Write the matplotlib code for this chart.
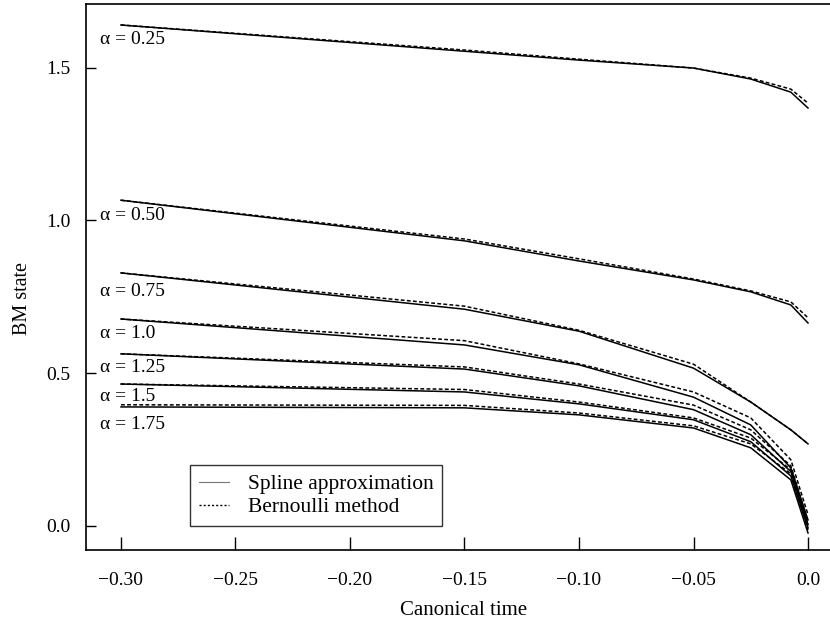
import matplotlib
matplotlib.use("Agg")
import matplotlib.pyplot as plt
from matplotlib.lines import Line2D

plt.rcParams["font.family"] = ["Liberation Serif", "DejaVu Serif"]
plt.rcParams["axes.unicode_minus"] = True

# canonical time knots
TIME = [-0.30, -0.15, -0.10, -0.05, -0.025, -0.0075, 0.0]

ALPHA_LABELS = ["0.25", "0.50", "0.75", "1.0", "1.25", "1.5", "1.75"]
LABEL_Y = [1.591, 1.017, 0.768, 0.631, 0.517, 0.422, 0.330]

# spline approximation (solid)
SPLINE_025 = [1.640, 1.554, 1.525, 1.499, 1.463, 1.420, 1.368]
SPLINE_050 = [1.066, 0.933, 0.867, 0.805, 0.766, 0.723, 0.664]
SPLINE_075 = [0.828, 0.709, 0.637, 0.516, 0.405, 0.314, 0.268]
SPLINE_100 = [0.677, 0.592, 0.527, 0.421, 0.330, 0.189, 0.019]
SPLINE_125 = [0.563, 0.513, 0.458, 0.380, 0.298, 0.177, 0.003]
SPLINE_150 = [0.464, 0.438, 0.399, 0.347, 0.275, 0.163, -0.007]
SPLINE_175 = [0.389, 0.386, 0.363, 0.320, 0.255, 0.150, -0.024]

# Bernoulli method (dashed)
BERN_025 = [1.640, 1.558, 1.528, 1.499, 1.466, 1.430, 1.384]
BERN_050 = [1.066, 0.939, 0.874, 0.808, 0.769, 0.733, 0.681]
BERN_075 = [0.828, 0.719, 0.640, 0.529, 0.405, 0.314, 0.268]
BERN_100 = [0.677, 0.606, 0.530, 0.438, 0.353, 0.216, 0.036]
BERN_125 = [0.563, 0.520, 0.464, 0.395, 0.314, 0.196, 0.012]
BERN_150 = [0.464, 0.446, 0.405, 0.353, 0.287, 0.183, 0.003]
BERN_175 = [0.396, 0.394, 0.369, 0.327, 0.268, 0.170, -0.014]

XTICKS = [-0.30, -0.25, -0.20, -0.15, -0.10, -0.05, 0.0]
XTICK_LABELS = ["\u22120.30", "\u22120.25", "\u22120.20", "\u22120.15",
                "\u22120.10", "\u22120.05", "0.0"]
YTICKS = [0.0, 0.5, 1.0, 1.5]
YTICK_LABELS = ["0.0", "0.5", "1.0", "1.5"]


def main():
    spline = [SPLINE_025, SPLINE_050, SPLINE_075, SPLINE_100,
              SPLINE_125, SPLINE_150, SPLINE_175]
    bern = [BERN_025, BERN_050, BERN_075, BERN_100,
            BERN_125, BERN_150, BERN_175]

    fig = plt.figure(figsize=(8.3, 6.33), dpi=100)
    ax = fig.add_axes([0.1036, 0.131, 0.8964, 0.8626])

    for s, b in zip(spline, bern):
        ax.plot(TIME, s, color="black", lw=1.1)
        ax.plot(TIME, b, color="black", lw=1.1, dashes=(2.5, 1.5))

    for lab, y in zip(ALPHA_LABELS, LABEL_Y):
        ax.text(-0.3092, y, "\u03b1 = " + lab, fontsize=14,
                ha="left", va="center")

    ax.set_xlim(-0.31528, 0.0096)
    ax.set_ylim(-0.0799, 1.7086)

    ax.set_xticks(XTICKS)
    ax.set_xticklabels(XTICK_LABELS)
    ax.set_yticks(YTICKS)
    ax.set_yticklabels(YTICK_LABELS)
    ax.tick_params(axis="x", direction="in", length=9.5, width=1.0,
                   labelsize=14, pad=16)
    ax.tick_params(axis="y", direction="in", length=7, width=1.0,
                   labelsize=14, pad=11)

    ax.spines["right"].set_visible(False)
    for side in ["left", "bottom", "top"]:
        ax.spines[side].set_linewidth(1.2)

    ax.set_xlabel("Canonical time", fontsize=15)
    ax.set_ylabel("BM state", fontsize=14.5)
    ax.xaxis.set_label_coords(0.508, -0.093)
    ax.yaxis.set_label_coords(-0.0726, 0.46)

    handles = [
        Line2D([], [], color="#777777", lw=0.8),
        Line2D([], [], color="black", lw=1.0, dashes=(1.5, 1.5)),
    ]
    leg = ax.legend(handles, ["Spline approximation", "Bernoulli method"],
                    loc="lower left", bbox_to_anchor=(0.1398, 0.044),
                    fontsize=15.5, frameon=True, fancybox=False,
                    handlelength=1.4, handletextpad=0.9,
                    borderpad=0.4, labelspacing=0.15, borderaxespad=0)
    leg.get_frame().set_edgecolor("black")
    leg.get_frame().set_linewidth(1.0)

    fig.savefig("out.png", dpi=100)
    plt.close(fig)


if __name__ == "__main__":
    main()
